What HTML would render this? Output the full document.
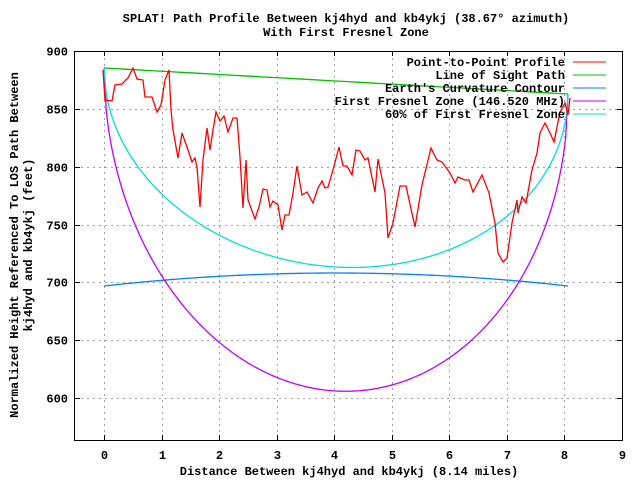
<!DOCTYPE html>
<html><head><meta charset="utf-8"><style>
body{margin:0;background:#fff}
svg{display:block}
text{font-family:"Liberation Mono","DejaVu Sans Mono",monospace;font-weight:bold;font-size:12px;fill:#000}
</style></head><body>
<svg id="s" width="640" height="480" xmlns="http://www.w3.org/2000/svg">
<rect width="640" height="480" fill="#fff"/>
<g id="grid"></g>
<text x="346" y="22" text-anchor="middle">SPLAT! Path Profile Between kj4hyd and kb4ykj (38.67° azimuth)</text>
<text x="346" y="36" text-anchor="middle">With First Fresnel Zone</text>
<text x="349" y="475" text-anchor="middle">Distance Between kj4hyd and kb4ykj (8.14 miles)</text>
<text transform="translate(18,245) rotate(-90)" text-anchor="middle">Normalized Height Referenced To LOS Path Between</text>
<text transform="translate(32,245) rotate(-90)" text-anchor="middle">kj4hyd and kb4ykj (feet)</text>
<g id="curves"></g>
<polyline fill="none" stroke="#ff0000" stroke-width="1.3" points="103,70 105,100 112,101 115,85 122,84 128,78 133,68 137,79 143,80 145,97 152,97 157,112 161,105 165,80 169,70 171,110 173,130 178,158 182,133 187,147 192,162 195,158 197,167 200,207 203,160 207,128 210,150 213,130 216,112 220,121 224,116 228,132 233,118 237,118 240,157 243,208 246,160 248,200 255,219 259,207 263,189 267,190 270,207 273,201 278,205 282,230 285,215 289,215 293,193 297,166 302,195 307,192 313,203 318,188 322,181 325,188 328,187 333,170 339,147 343,166 347,166 352,175 356,150 360,151 365,160 368,158 375,192 378,159 385,193 388,238 393,223 400,186 406,186 415,227 422,185 431,148 437,160 442,162 450,173 455,183 458,177 465,180 469,180 473,192 482,175 489,193 495,223 498,253 503,262 507,258 512,223 517,200 518,213 522,197 526,203 532,170 537,153 540,133 545,123 550,133 554,142 560,112 565,103 568,115 570,98"/>
<rect x="74.5" y="51.5" width="548" height="389" fill="none" stroke="#000" stroke-width="1"/>
<g id="leg">
<rect x="330" y="54" width="235" height="66" fill="#fff" fill-opacity="0"/>
<text x="565" y="66" text-anchor="end">Point-to-Point Profile</text>
<text x="565" y="79" text-anchor="end">Line of Sight Path</text>
<text x="565" y="92" text-anchor="end">Earth's Curvature Contour</text>
<text x="565" y="105" text-anchor="end">First Fresnel Zone (146.520 MHz)</text>
<text x="565" y="118" text-anchor="end">60% of First Fresnel Zone</text>
<line x1="573" y1="62" x2="606" y2="62" stroke="#ff0000"/>
<line x1="573" y1="75" x2="606" y2="75" stroke="#00c000"/>
<line x1="573" y1="88" x2="606" y2="88" stroke="#0080ff"/>
<line x1="573" y1="101" x2="606" y2="101" stroke="#c000ff"/>
<line x1="573" y1="114" x2="606" y2="114" stroke="#00e0e0"/>
</g>
</svg>
<script>
var NS="http://www.w3.org/2000/svg";
function el(p,t,a,txt){var e=document.createElementNS(NS,t);for(var k in a)e.setAttribute(k,a[k]);if(txt!=null)e.textContent=txt;document.getElementById(p).appendChild(e);return e;}
var X=function(v){return 104+v*57.56;}, Y=function(v){return 51+(900-v)*1.1567;};
for(var i=0;i<=9;i++){var x=Math.round(X(i))+0.5;
 if(i<=8)el("grid","line",{x1:x,y1:52,x2:x,y2:440,stroke:"#a0a0a0","stroke-dasharray":"2,4"});
 el("grid","line",{x1:x,y1:440,x2:x,y2:435,stroke:"#000"});el("grid","line",{x1:x,y1:51,x2:x,y2:56,stroke:"#000"});
 el("grid","text",{x:x,y:459,"text-anchor":"middle"},String(i));}
for(var v=600;v<=900;v+=50){var y=Math.round(Y(v))+0.5;
 if(v<900)el("grid","line",{x1:75,y1:y,x2:622,y2:y,stroke:"#a0a0a0","stroke-dasharray":"2,4"});
 el("grid","line",{x1:75,y1:y,x2:80,y2:y,stroke:"#000"});el("grid","line",{x1:622,y1:y,x2:617,y2:y,stroke:"#000"});
 el("grid","text",{x:68,y:y+4,"text-anchor":"end"},String(v));}
var x0=104,x1=568,y0=68,y1=94;
var los=[],ea=[],f1=[],f6=[];
for(var k=0;k<=200;k++){var t=k/200,x=x0+(x1-x0)*t,yl=y0+(y1-y0)*t,r=2*Math.sqrt(t*(1-t));
 los.push(x+","+yl);ea.push(x+","+(286-4*13*t*(1-t)));
 f1.push(x+","+(yl+310*r));f6.push(x+","+(yl+186*r));}
el("curves","polyline",{points:los.join(" "),fill:"none",stroke:"#00c000","stroke-width":1.3});
el("curves","polyline",{points:ea.join(" "),fill:"none",stroke:"#0080ff","stroke-width":1.3});
el("curves","polyline",{points:f1.join(" "),fill:"none",stroke:"#c000ff","stroke-width":1.3});
el("curves","polyline",{points:f6.join(" "),fill:"none",stroke:"#00e0e0","stroke-width":1.3});
</script>
</body></html>
